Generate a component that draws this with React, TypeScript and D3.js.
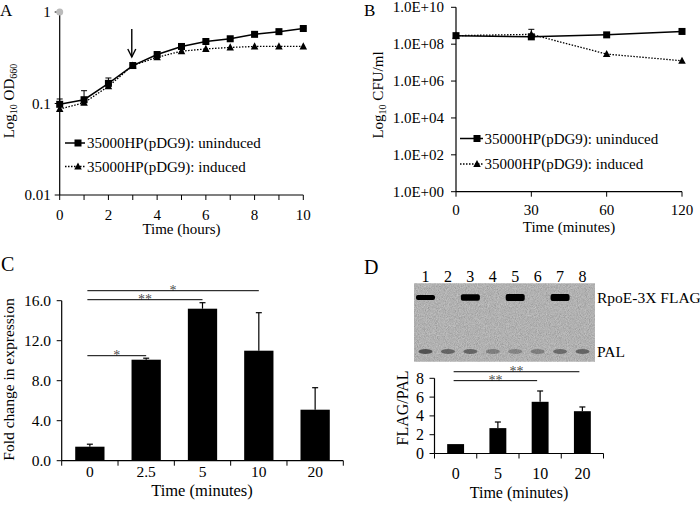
import React from "react";
import * as d3 from "d3";

const FONT = "'Liberation Serif', 'Times New Roman', serif";

// ---------- Panel A data ----------
const hoursA = [0, 1, 2, 3, 4, 5, 6, 7, 8, 9, 10];
const odUninduced = [0.098, 0.11, 0.166, 0.26, 0.343, 0.42, 0.476, 0.51, 0.57, 0.61, 0.66];
const odUninducedErr = [0.014, 0.028, 0.024, 0.004, 0.008, 0.008, 0.008, 0.008, 0.008, 0.008, 0.008];
const odInduced = [0.087, 0.102, 0.154, 0.26, 0.32, 0.373, 0.395, 0.41, 0.42, 0.42, 0.42];
const odInducedErr = [0.004, 0.004, 0.006, 0.004, 0.006, 0.006, 0.006, 0.006, 0.006, 0.006, 0.006];
const arrowHour = 3;
const yTicksA = [0.01, 0.1, 1];
const xLabelTicksA = [0, 2, 4, 6, 8, 10];

// ---------- Panel B data ----------
const minutesB = ["0", "30", "60", "120"];
const cfuUninduced = [2.9e8, 2.5e8, 3.2e8, 4.9e8];
const cfuInduced = [2.9e8, 3.4e8, 2.9e7, 1.26e7];
const cfuInducedErr = [0, 3.0e8, 0, 0];
const yTicksB = [1, 1e2, 1e4, 1e6, 1e8, 1e10];

const legendLabels = ["35000HP(pDG9): uninduced", "35000HP(pDG9): induced"];

// ---------- Panel C data ----------
const timesC = ["0", "2.5", "5", "10", "20"];
const foldC = [1.4, 10.1, 15.2, 11.0, 5.1];
const foldErrC = [0.25, 0.15, 0.6, 3.8, 2.2];
const yTicksC = [0, 4, 8, 12, 16];
const sigFromC = ["0", "0", "0"];
const sigToC = ["2.5", "5", "10"];
const sigLevelC = [10.5, 16.1, 17.0];
const sigLabelC = ["*", "**", "*"];

// ---------- Panel D data ----------
const lanesD = ["1", "2", "3", "4", "5", "6", "7", "8"];
const rpoeBand = [0.4, 0, 0.85, 0, 0.9, 0, 1, 0];
const palBand = [0.75, 0.6, 0.6, 0.4, 0.35, 0.4, 0.55, 0.6];
const timesD = ["0", "5", "10", "20"];
const ratioD = [1.0, 2.7, 5.5, 4.5];
const ratioErrD = [0, 0.65, 1.15, 0.45];
const yTicksD = [0, 2, 4, 6, 8];
const sigFromD = ["0", "0"];
const sigToD = ["10", "20"];
const sigLevelD = [7.75, 8.7];
const sigLabelD = ["**", "**"];

const Square = ({ x, y, s = 7 }: { x: number; y: number; s?: number }) => (
  <rect x={x - s / 2} y={y - s / 2} width={s} height={s} fill="#000" />
);
const Tri = ({ x, y, s = 7.5 }: { x: number; y: number; s?: number }) => (
  <path d={`M${x},${y - s * 0.55} L${x + s / 2},${y + s * 0.4} L${x - s / 2},${y + s * 0.4} Z`} fill="#000" />
);

export default function App() {
  const xA = d3.scaleLinear().domain([0, 10]).range([59.7, 303.3]);
  const yA = d3.scaleLog().domain([0.01, 1]).range([195, 12]);
  const lineA = d3
    .line<number>()
    .x((_, i) => xA(hoursA[i]))
    .y((d) => yA(d));

  const xB = d3.scalePoint<string>().domain(minutesB).range([456, 682]);
  const yB = d3.scaleLog().domain([1, 1e10]).range([191.7, 7.3]);
  const lineB = d3
    .line<number>()
    .x((_, i) => xB(minutesB[i]) as number)
    .y((d) => yB(d));
  const fmtB = (d: number) => "1.0E+" + String(Math.round(Math.log10(d))).padStart(2, "0");

  const xC = d3.scaleBand<string>().domain(timesC).range([61.7, 343.3]).paddingInner(0.48).paddingOuter(0.24);
  const yC = d3.scaleLinear().domain([0, 16]).range([460.7, 300.7]);
  const cCenter = (c: string) => (xC(c) as number) + xC.bandwidth() / 2;

  const xD = d3.scaleBand<string>().domain(timesD).range([434.5, 603.5]).paddingInner(0.6).paddingOuter(0.3);
  const yD = d3.scaleLinear().domain([0, 8]).range([453.5, 378.3]);
  const dCenter = (c: string) => (xD(c) as number) + xD.bandwidth() / 2;
  const lane = d3.scalePoint<string>().domain(lanesD).range([425.5, 582.5]);

  const tickLen = 5;

  return (
    <svg
      width={700}
      height={509}
      style={{ position: "absolute", left: 0, top: 0, background: "#fff" }}
      fontFamily={FONT}
    >
      <defs>
        <filter id="grain" x="0" y="0" width="100%" height="100%">
          <feTurbulence type="fractalNoise" baseFrequency="1.1" numOctaves="2" seed="5" stitchTiles="stitch" />
          <feColorMatrix
            type="matrix"
            values="0.33 0.33 0.33 0 0  0.33 0.33 0.33 0 0  0.33 0.33 0.33 0 0  0 0 0 0 0.6"
          />
        </filter>
        <filter id="blur1" x="-30%" y="-80%" width="160%" height="260%">
          <feGaussianBlur stdDeviation="0.7" />
        </filter>
      </defs>
      <rect width={700} height={509} fill="#fff" />

      {/* ================= Panel A ================= */}
      <text x={0} y={16} fontSize={17}>A</text>
      <line x1={xA(0)} x2={xA(0)} y1={yA(1)} y2={yA(0.01)} stroke="#000" strokeWidth={1.2} />
      <line x1={xA(0)} x2={xA(10)} y1={yA(0.01)} y2={yA(0.01)} stroke="#000" strokeWidth={1.2} />
      {yTicksA.map((t) => (
        <g key={"ya" + t}>
          <line x1={xA(0) - tickLen} x2={xA(0)} y1={yA(t)} y2={yA(t)} stroke="#000" />
          <text x={xA(0) - 9} y={yA(t) + 5} fontSize={15} textAnchor="end">{String(t)}</text>
        </g>
      ))}
      {hoursA.map((h) => (
        <line key={"xta" + h} x1={xA(h)} x2={xA(h)} y1={yA(0.01)} y2={yA(0.01) + tickLen} stroke="#000" />
      ))}
      {xLabelTicksA.map((h) => (
        <text key={"xla" + h} x={xA(h)} y={219.5} fontSize={15} textAnchor="middle">{h}</text>
      ))}
      <text x={(xA(0) + xA(10)) / 2} y={234} fontSize={15} textAnchor="middle">Time (hours)</text>
      <text transform="translate(14,101) rotate(-90)" fontSize={15} textAnchor="middle">
        Log<tspan fontSize={10} dy={3}>10</tspan>
        <tspan dy={-3}> OD</tspan>
        <tspan fontSize={10} dy={3}>660</tspan>
      </text>
      <circle cx={xA(0)} cy={yA(1)} r={3.5} fill="#bbb" />
      {odUninduced.map((d, i) => (
        <g key={"eau" + i}>
          <line x1={xA(hoursA[i])} x2={xA(hoursA[i])} y1={yA(d)} y2={yA(d + odUninducedErr[i])} stroke="#000" />
          <line x1={xA(hoursA[i]) - 3} x2={xA(hoursA[i]) + 3} y1={yA(d + odUninducedErr[i])} y2={yA(d + odUninducedErr[i])} stroke="#000" />
        </g>
      ))}
      {odInduced.map((d, i) => (
        <g key={"eai" + i}>
          <line x1={xA(hoursA[i])} x2={xA(hoursA[i])} y1={yA(d)} y2={yA(d - odInducedErr[i])} stroke="#000" />
        </g>
      ))}
      <path d={lineA(odInduced) || ""} fill="none" stroke="#000" strokeWidth={1.3} strokeDasharray="1.5 1.5" />
      <path d={lineA(odUninduced) || ""} fill="none" stroke="#000" strokeWidth={1.5} />
      {odInduced.map((d, i) => (
        <Tri key={"ta" + i} x={xA(hoursA[i])} y={yA(d)} />
      ))}
      {odUninduced.map((d, i) => (
        <Square key={"sa" + i} x={xA(hoursA[i])} y={yA(d)} />
      ))}
      <g stroke="#000" strokeWidth={1.4} fill="none">
        <line x1={xA(arrowHour) - 1} x2={xA(arrowHour) - 1} y1={29} y2={57} />
        <path d={`M${xA(arrowHour) - 5},${49} L${xA(arrowHour) - 1},${57} L${xA(arrowHour) + 3},${49}`} />
      </g>
      <line x1={65} x2={85} y1={143} y2={143} stroke="#000" strokeWidth={1.5} />
      <Square x={78} y={143} />
      <text x={87} y={148} fontSize={15}>{legendLabels[0]}</text>
      <line x1={65} x2={85} y1={166.5} y2={166.5} stroke="#000" strokeWidth={1.3} strokeDasharray="1.5 1.5" />
      <Tri x={78} y={166.5} />
      <text x={87} y={172} fontSize={15}>{legendLabels[1]}</text>

      {/* ================= Panel B ================= */}
      <text x={364} y={16} fontSize={17}>B</text>
      <line x1={456} x2={456} y1={yB(1e10)} y2={yB(1)} stroke="#000" strokeWidth={1.2} />
      <line x1={456} x2={682} y1={yB(1)} y2={yB(1)} stroke="#000" strokeWidth={1.2} />
      {yTicksB.map((t) => (
        <g key={"yb" + t}>
          <line x1={456 - tickLen} x2={456} y1={yB(t)} y2={yB(t)} stroke="#000" />
          <text x={444} y={yB(t) + 5} fontSize={15} textAnchor="end">{fmtB(t)}</text>
        </g>
      ))}
      {minutesB.map((m) => (
        <g key={"xb" + m}>
          <line x1={xB(m)} x2={xB(m)} y1={yB(1)} y2={yB(1) + tickLen} stroke="#000" />
          <text x={xB(m)} y={214.5} fontSize={15} textAnchor="middle">{m}</text>
        </g>
      ))}
      <text x={569} y={232} fontSize={15} textAnchor="middle">Time (minutes)</text>
      <text transform="translate(383,95) rotate(-90)" fontSize={15} textAnchor="middle">
        Log<tspan fontSize={10} dy={3}>10</tspan>
        <tspan dy={-3}> CFU/ml</tspan>
      </text>
      {cfuInduced.map((d, i) =>
        cfuInducedErr[i] > 0 ? (
          <g key={"ebi" + i}>
            <line x1={xB(minutesB[i])} x2={xB(minutesB[i])} y1={yB(d)} y2={yB(d + cfuInducedErr[i])} stroke="#000" />
            <line x1={(xB(minutesB[i]) as number) - 3} x2={(xB(minutesB[i]) as number) + 3} y1={yB(d + cfuInducedErr[i])} y2={yB(d + cfuInducedErr[i])} stroke="#000" />
          </g>
        ) : null
      )}
      <path d={lineB(cfuInduced) || ""} fill="none" stroke="#000" strokeWidth={1.3} strokeDasharray="1.5 1.5" />
      <path d={lineB(cfuUninduced) || ""} fill="none" stroke="#000" strokeWidth={1.5} />
      {cfuInduced.map((d, i) => (
        <Tri key={"tb" + i} x={xB(minutesB[i]) as number} y={yB(d)} />
      ))}
      {cfuUninduced.map((d, i) => (
        <Square key={"sb" + i} x={xB(minutesB[i]) as number} y={yB(d)} />
      ))}
      <line x1={460} x2={483} y1={138.5} y2={138.5} stroke="#000" strokeWidth={1.5} />
      <Square x={477} y={138.5} />
      <text x={484.5} y={143.5} fontSize={15}>{legendLabels[0]}</text>
      <line x1={460} x2={483} y1={164} y2={164} stroke="#000" strokeWidth={1.3} strokeDasharray="1.5 1.5" />
      <Tri x={477} y={164} />
      <text x={484.5} y={169} fontSize={15}>{legendLabels[1]}</text>

      {/* ================= Panel C ================= */}
      <text x={1} y={271} fontSize={20}>C</text>
      <line x1={61.7} x2={61.7} y1={yC(16)} y2={yC(0)} stroke="#000" strokeWidth={1.2} />
      <line x1={61.7} x2={343.3} y1={yC(0)} y2={yC(0)} stroke="#000" strokeWidth={1.2} />
      {yTicksC.map((t) => (
        <g key={"yc" + t}>
          <line x1={61.7 - tickLen} x2={61.7} y1={yC(t)} y2={yC(t)} stroke="#000" />
          <text x={51} y={yC(t) + 5.5} fontSize={15.5} textAnchor="end">{t.toFixed(1)}</text>
        </g>
      ))}
      {timesC.map((c, i) => (
        <line key={"xtc" + c} x1={61.7 + i * xC.step()} x2={61.7 + i * xC.step()} y1={yC(0)} y2={yC(0) + tickLen} stroke="#000" />
      ))}
      <line x1={343.3} x2={343.3} y1={yC(0)} y2={yC(0) + tickLen} stroke="#000" />
      {timesC.map((c) => (
        <text key={"xlc" + c} x={cCenter(c)} y={477} fontSize={15.5} textAnchor="middle">{c}</text>
      ))}
      <text x={202} y={495.5} fontSize={16.5} textAnchor="middle">Time (minutes)</text>
      <text transform="translate(14,379.5) rotate(-90)" fontSize={15.5} textAnchor="middle">Fold change in expression</text>
      {foldC.map((v, i) => {
        const cx = cCenter(timesC[i]);
        return (
          <g key={"bc" + i}>
            <rect x={xC(timesC[i])} y={yC(v)} width={xC.bandwidth()} height={yC(0) - yC(v)} fill="#000" />
            <line x1={cx} x2={cx} y1={yC(v)} y2={yC(v + foldErrC[i])} stroke="#000" strokeWidth={1.2} />
            <line x1={cx - 3} x2={cx + 3} y1={yC(v + foldErrC[i])} y2={yC(v + foldErrC[i])} stroke="#000" strokeWidth={1.2} />
          </g>
        );
      })}
      {sigLevelC.map((lv, i) => {
        const x1 = cCenter(sigFromC[i]) - 2.5;
        const x2 = cCenter(sigToC[i]);
        return (
          <g key={"sc" + i}>
            <line x1={x1} x2={x2} y1={yC(lv)} y2={yC(lv)} stroke="#000" strokeWidth={1} />
            <text x={(x1 + x2) / 2} y={yC(lv) + 4.5} fontSize={14} fill="#000" fillOpacity={0.75} textAnchor="middle">{sigLabelC[i]}</text>
          </g>
        );
      })}

      {/* ================= Panel D ================= */}
      <text x={364} y={274} fontSize={20}>D</text>
      <rect x={414} y={283.5} width={181} height={78} fill="#a2a2a2" />
      <rect x={414} y={283.5} width={181} height={78} filter="url(#grain)" />
      {rpoeBand.map((v, i) =>
        v > 0 ? (
          <rect
            key={"rb" + i}
            x={(lane(lanesD[i]) as number) - 9.5}
            y={297.5 - (1.8 + 1.8 * v)}
            width={19}
            height={3.6 + 3.6 * v}
            rx={2}
            fill="#000"
            filter="url(#blur1)"
          />
        ) : null
      )}
      {palBand.map((v, i) => (
        <ellipse
          key={"pb" + i}
          cx={lane(lanesD[i]) as number}
          cy={351.5}
          rx={7}
          ry={2.4}
          fill="#333"
          opacity={v}
          filter="url(#blur1)"
        />
      ))}
      {lanesD.map((l) => (
        <text key={"ln" + l} x={lane(l)} y={282} fontSize={16} textAnchor="middle">{l}</text>
      ))}
      <text x={597} y={303} fontSize={15.5}>RpoE-3X FLAG</text>
      <text x={597} y={357} fontSize={15.5}>PAL</text>
      <line x1={434.5} x2={434.5} y1={yD(8)} y2={yD(0)} stroke="#000" strokeWidth={1.2} />
      <line x1={434.5} x2={603.5} y1={yD(0)} y2={yD(0)} stroke="#000" strokeWidth={1.2} />
      {yTicksD.map((t) => (
        <g key={"yd" + t}>
          <line x1={434.5 - tickLen} x2={434.5} y1={yD(t)} y2={yD(t)} stroke="#000" />
          <text x={424} y={yD(t) + 5.5} fontSize={16} textAnchor="end">{t}</text>
        </g>
      ))}
      {timesD.map((c, i) => (
        <line key={"xtd" + c} x1={434.5 + i * xD.step()} x2={434.5 + i * xD.step()} y1={yD(0)} y2={yD(0) + tickLen} stroke="#000" />
      ))}
      <line x1={603.5} x2={603.5} y1={yD(0)} y2={yD(0) + tickLen} stroke="#000" />
      {timesD.map((c) => (
        <text key={"xld" + c} x={dCenter(c)} y={479} fontSize={16} textAnchor="middle">{c}</text>
      ))}
      <text x={519} y={498} fontSize={16} textAnchor="middle">Time (minutes)</text>
      <text transform="translate(408,408) rotate(-90)" fontSize={16} textAnchor="middle">FLAG/PAL</text>
      {ratioD.map((v, i) => {
        const cx = dCenter(timesD[i]);
        return (
          <g key={"bd" + i}>
            <rect x={xD(timesD[i])} y={yD(v)} width={xD.bandwidth()} height={yD(0) - yD(v)} fill="#000" />
            {ratioErrD[i] > 0 ? (
              <>
                <line x1={cx} x2={cx} y1={yD(v)} y2={yD(v + ratioErrD[i])} stroke="#000" strokeWidth={1.2} />
                <line x1={cx - 3} x2={cx + 3} y1={yD(v + ratioErrD[i])} y2={yD(v + ratioErrD[i])} stroke="#000" strokeWidth={1.2} />
              </>
            ) : null}
          </g>
        );
      })}
      {sigLevelD.map((lv, i) => {
        const x1 = dCenter(sigFromD[i]) - 2;
        const x2 = dCenter(sigToD[i]) - 3;
        return (
          <g key={"sd" + i}>
            <line x1={x1} x2={x2} y1={yD(lv)} y2={yD(lv)} stroke="#000" strokeWidth={1} />
            <text x={(x1 + x2) / 2} y={yD(lv) + 4.5} fontSize={14} fill="#000" fillOpacity={0.75} textAnchor="middle">{sigLabelD[i]}</text>
          </g>
        );
      })}
    </svg>
  );
}
